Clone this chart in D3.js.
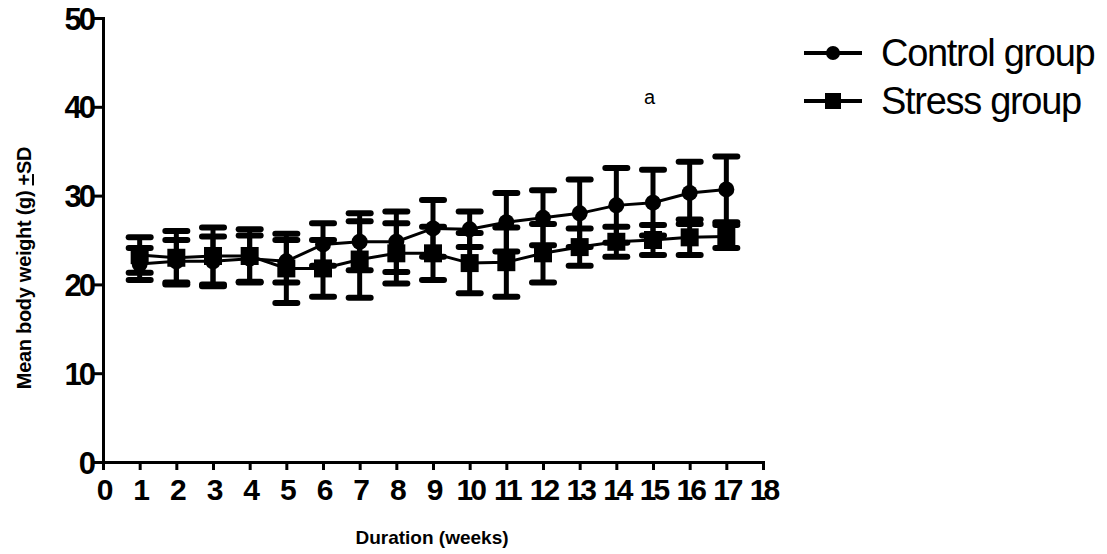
<!DOCTYPE html>
<html>
<head>
<meta charset="utf-8">
<script src="https://cdn.jsdelivr.net/npm/d3@7"></script>
<style>
  body { margin: 0; background: #fff; }
  svg text { font-family: "Liberation Sans", Arial, sans-serif; fill: #000; }
</style>
</head>
<body>
<svg id="chart" width="1107" height="554"></svg>
<script>
'use strict';

/* Data */
var weeks = [1, 2, 3, 4, 5, 6, 7, 8, 9, 10, 11, 12, 13, 14, 15, 16, 17];
var controlMean = [22.3, 22.6, 22.6, 22.9, 22.6, 24.5, 24.8, 24.8, 26.3, 26.2, 27.0, 27.5, 28.0, 28.9, 29.2, 30.3, 30.7];
var controlSD   = [1.8, 2.4, 2.8, 2.6, 2.4, 2.4, 3.2, 3.4, 3.2, 2.0, 3.3, 3.1, 3.8, 4.2, 3.7, 3.5, 3.7];
var stressMean  = [23.3, 23.0, 23.2, 23.2, 21.8, 21.8, 22.8, 23.5, 23.5, 22.4, 22.5, 23.5, 24.2, 24.8, 25.0, 25.3, 25.4];
var stressSD    = [2.0, 3.0, 3.2, 3.0, 3.9, 3.2, 4.3, 3.4, 3.0, 3.4, 3.9, 3.3, 2.1, 1.7, 1.7, 2.0, 1.3];
var xTicks = d3.range(0, 19);
var yTicks = [0, 10, 20, 30, 40, 50];
var seriesNames = ['Control group', 'Stress group'];

var svg = d3.select('#chart');

// scales
var x = d3.scaleLinear().domain([0, 18]).range([103, 763]);
var y = d3.scaleLinear().domain([0, 50]).range([462, 18]);

// y axis
var yAxis = svg.append('g')
  .attr('transform', 'translate(' + x(0) + ',0)')
  .call(d3.axisLeft(y).tickValues(yTicks).tickSize(9).tickPadding(1));
yAxis.select('.domain').attr('stroke-width', 3).attr('stroke', '#000');
yAxis.selectAll('.tick line').attr('stroke-width', 3).attr('stroke', '#000');
yAxis.selectAll('.tick text')
  .attr('font-size', 31).attr('font-weight', 'bold').attr('letter-spacing', -3)
  .attr('dy', '0.36em').attr('fill', '#000');

// x axis
var xAxis = svg.append('g')
  .attr('transform', 'translate(0,' + y(0) + ')')
  .call(d3.axisBottom(x).tickValues(xTicks).tickSize(8).tickPadding(9).tickSizeOuter(8));
xAxis.select('.domain').attr('stroke-width', 3).attr('stroke', '#000');
xAxis.selectAll('.tick line').attr('stroke-width', 3).attr('stroke', '#000');
xAxis.selectAll('.tick text')
  .attr('font-size', 30).attr('font-weight', 'bold').attr('letter-spacing', -3)
  .attr('fill', '#000');

// axis titles
var yTitle = svg.append('text')
  .attr('transform', 'translate(31,' + 268 + ') rotate(-90)')
  .attr('text-anchor', 'middle')
  .attr('font-size', 20).attr('font-weight', 'bold').attr('letter-spacing', -0.3);
yTitle.append('tspan').text('Mean body weight (g) ');
yTitle.append('tspan').attr('text-decoration', 'underline').text('+');
yTitle.append('tspan').text('SD');

svg.append('text')
  .attr('x', 432).attr('y', 544)
  .attr('text-anchor', 'middle')
  .attr('font-size', 19).attr('font-weight', 'bold')
  .text('Duration (weeks)');

// series
var series = [
  { name: seriesNames[0], mean: controlMean, sd: controlSD, shape: 'circle' },
  { name: seriesNames[1], mean: stressMean, sd: stressSD, shape: 'square' }
];

var line = d3.line()
  .x(function(d) { return x(d.w); })
  .y(function(d) { return y(d.m); });

series.forEach(function(s) {
  var pts = weeks.map(function(w, i) { return { w: w, m: s.mean[i], sd: s.sd[i] }; });
  var g = svg.append('g');

  g.append('path')
    .datum(pts)
    .attr('d', line)
    .attr('fill', 'none')
    .attr('stroke', '#000')
    .attr('stroke-width', 3);

  // error bars
  var eb = g.selectAll('g.eb').data(pts).enter().append('g');
  eb.append('line')
    .attr('x1', function(d) { return x(d.w); })
    .attr('x2', function(d) { return x(d.w); })
    .attr('y1', function(d) { return y(d.m + d.sd); })
    .attr('y2', function(d) { return y(d.m - d.sd); })
    .attr('stroke', '#000').attr('stroke-width', 5);
  [1, -1].forEach(function(sign) {
    eb.append('line')
      .attr('x1', function(d) { return x(d.w) - 11; })
      .attr('x2', function(d) { return x(d.w) + 11; })
      .attr('y1', function(d) { return y(d.m + sign * d.sd); })
      .attr('y2', function(d) { return y(d.m + sign * d.sd); })
      .attr('stroke', '#000').attr('stroke-width', 6)
      .attr('stroke-linecap', 'round');
  });

  // markers
  if (s.shape === 'circle') {
    g.selectAll('circle').data(pts).enter().append('circle')
      .attr('cx', function(d) { return x(d.w); })
      .attr('cy', function(d) { return y(d.m); })
      .attr('r', 8).attr('fill', '#000');
  } else {
    g.selectAll('rect').data(pts).enter().append('rect')
      .attr('x', function(d) { return x(d.w) - 9; })
      .attr('y', function(d) { return y(d.m) - 9; })
      .attr('width', 18).attr('height', 18).attr('fill', '#000');
  }
});

// legend
var legend = svg.append('g');
series.forEach(function(s, i) {
  var ly = 53 + i * 48;
  legend.append('line')
    .attr('x1', 804).attr('x2', 862).attr('y1', ly).attr('y2', ly)
    .attr('stroke', '#000').attr('stroke-width', 4);
  if (s.shape === 'circle') {
    legend.append('circle').attr('cx', 833).attr('cy', ly).attr('r', 7).attr('fill', '#000');
  } else {
    legend.append('rect').attr('x', 825).attr('y', ly - 8).attr('width', 16).attr('height', 16).attr('fill', '#000');
  }
  legend.append('text')
    .attr('x', 881).attr('y', ly + 13)
    .attr('font-size', 38).attr('letter-spacing', -1.3)
    .text(s.name);
});

// panel letter
svg.append('text')
  .attr('x', 644).attr('y', 104)
  .attr('font-size', 20)
  .text('a');
</script>
</body>
</html>
